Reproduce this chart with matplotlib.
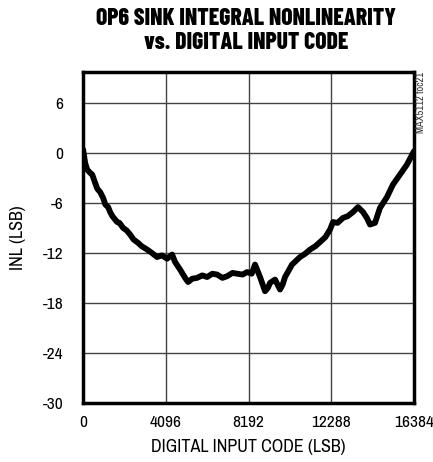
import matplotlib
matplotlib.use("Agg")
import matplotlib.pyplot as plt

# INL curve
codes = [0, 99, 200, 347, 450, 594, 700, 842, 990, 1100, 1238, 1337, 1450,
         1683, 1800, 1980, 2150, 2327, 2500, 2723, 2900, 3168, 3400, 3663,
         3900, 4158, 4406, 4554, 4802, 5049, 5198, 5400, 5643, 5900, 6138,
         6400, 6633, 6900, 7128, 7400, 7623, 7900, 8118, 8350, 8514, 8762,
         9009, 9150, 9257, 9504, 9752, 9880, 9999, 10346, 10742, 11000,
         11237, 11500, 11732, 12000, 12227, 12376, 12600, 12871, 13100,
         13366, 13613, 13861, 14050, 14207, 14455, 14702, 15048, 15345,
         15692, 16038, 16384]
inl = [0.4, -1.2, -2.0, -2.4, -2.6, -3.6, -4.3, -4.7, -5.4, -6.2, -6.5, -7.1,
       -7.6, -8.3, -8.4, -9.0, -9.3, -9.8, -10.4, -10.8, -11.2, -11.6, -12.0,
       -12.5, -12.3, -12.7, -12.2, -13.1, -14.0, -15.0, -15.5, -15.1, -15.0,
       -14.7, -14.9, -14.5, -14.6, -15.0, -14.8, -14.4, -14.5, -14.6, -14.3,
       -14.5, -13.4, -14.9, -16.6, -16.2, -15.6, -15.2, -16.4, -15.8, -14.9,
       -13.4, -12.5, -12.1, -11.6, -11.2, -10.7, -10.1, -9.2, -8.3, -8.4,
       -7.8, -7.6, -7.1, -6.5, -7.1, -7.8, -8.6, -8.4, -6.6, -5.3, -3.8,
       -2.6, -1.4, 0.2]

xticks = [0, 4096, 8192, 12288, 16384]
yticks = [-30, -24, -18, -12, -6, 0, 6]

plt.rcParams['font.family'] = ['Archivo Narrow', 'DejaVu Sans']

fig = plt.figure(figsize=(4.33, 4.62), dpi=100)
ax = fig.add_axes([0.192, 0.128, 0.764, 0.716])

ax.plot(codes, inl, color='black', lw=4.2, solid_joinstyle='round',
        solid_capstyle='round', zorder=3)

ax.set_xlim(0, 16384)
ax.set_ylim(-30, 9.7)
ax.set_xticks(xticks)
ax.set_yticks(yticks)
ax.set_xticklabels([str(v) for v in xticks], fontsize=12.5)
ax.set_yticklabels([str(v) for v in yticks], fontsize=12.5)
ax.tick_params(length=0, pad=9, axis='x')
ax.tick_params(length=0, pad=14, axis='y')
ax.grid(True, color='#444444', lw=1.0)
ax.set_axisbelow(True)
for s in ax.spines.values():
    s.set_linewidth(2.5)

ax.set_xlabel('DIGITAL INPUT CODE (LSB)', fontsize=13, labelpad=6)
ax.set_ylabel('INL (LSB)', fontsize=13, labelpad=12)

fig.text(0.568, 0.933, 'OP6 SINK INTEGRAL NONLINEARITY\nvs. DIGITAL INPUT CODE',
         ha='center', va='center', fontsize=17, fontweight=800,
         family=['Barlow Condensed', 'DejaVu Sans'], linespacing=1.15)
fig.text(0.972, 0.844, 'MAX5112 toc21', rotation=90, ha='center', va='top',
         fontsize=7.5, color='#333333')

fig.savefig('out.png', dpi=100)
